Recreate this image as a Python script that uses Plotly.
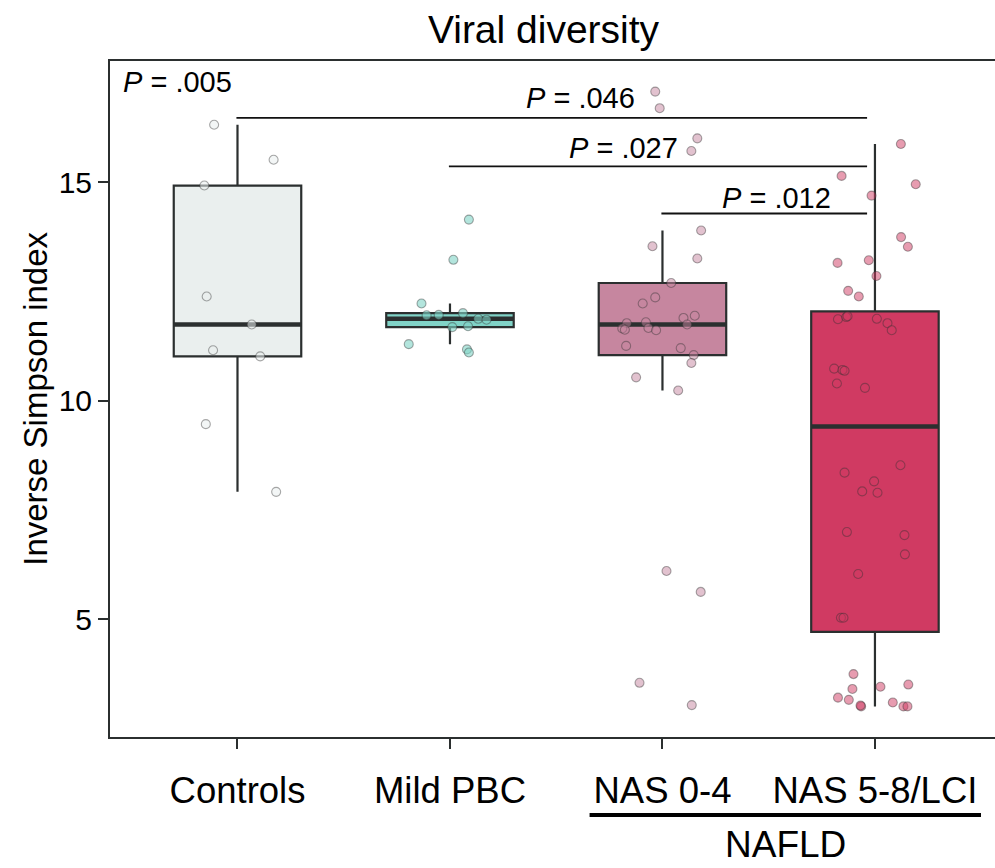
import numpy as np
import plotly.graph_objects as go

# ---- data -----------------------------------------------------------------
groups = ["Controls", "Mild PBC", "NAS 0-4", "NAS 5-8/LCI"]

controls = [16.32, 15.52, 14.93, 12.39, 11.75, 11.16, 11.02, 9.47, 7.92]
controls_jitter = [-0.110, 0.170, -0.156, -0.145, 0.067, -0.115, 0.107, -0.149, 0.182]

mild_pbc = [14.15, 13.23, 12.23, 11.96, 11.97, 12.01, 11.88, 11.86, 11.69, 11.71,
            11.30, 11.18, 11.11]
mild_pbc_jitter = [0.089, 0.016, -0.134, -0.110, -0.053, 0.061, 0.133, 0.172, 0.011,
                   0.085, -0.194, 0.080, 0.089]

nas_0_4 = [17.08, 16.70, 16.01, 15.72, 13.90, 13.54, 13.26, 12.70, 12.37, 12.23,
           11.95, 11.90, 11.78, 11.80, 11.75, 11.66, 11.63, 11.67, 11.62, 11.26,
           11.21, 11.05, 10.87, 10.54, 10.24, 6.11, 5.63, 3.55, 3.04]
nas_0_4_jitter = [-0.034, -0.013, 0.164, 0.136, 0.182, -0.047, 0.164, 0.041, -0.034,
                  -0.093, 0.152, 0.099, -0.168, -0.078, 0.116, -0.189, -0.177, -0.066,
                  -0.030, -0.171, 0.086, 0.147, 0.136, -0.124, 0.074, 0.019, 0.180,
                  -0.108, 0.138]

nas_5_8 = [15.88, 15.15, 14.96, 14.70, 13.75, 13.53, 13.16, 13.22, 12.86, 12.52,
           12.39, 11.87, 11.92, 11.94, 11.88, 11.78, 11.62, 10.74, 10.71, 10.69,
           10.40, 10.30, 8.53, 8.36, 8.16, 7.93, 7.90, 7.00, 6.93, 6.49,
           6.04, 5.04, 5.04, 3.75, 3.41, 3.46, 3.51, 3.21, 3.16, 3.01,
           3.03, 3.10, 3.01, 3.01]
nas_5_8_jitter = [0.122, -0.157, 0.192, -0.016, 0.123, 0.155, -0.176, -0.029, 0.007,
                  -0.126, -0.076, -0.174, -0.135, -0.129, 0.009, 0.059, 0.079, -0.192,
                  -0.153, -0.143, -0.179, -0.047, 0.120, -0.143, -0.004, -0.060, 0.012,
                  -0.132, 0.139, 0.141, -0.079, -0.160, -0.148, -0.101, -0.106, 0.026,
                  0.157, -0.174, -0.123, -0.065, -0.068, 0.084, 0.134, 0.153]

values = [controls, mild_pbc, nas_0_4, nas_5_8]
jitters = [controls_jitter, mild_pbc_jitter, nas_0_4_jitter, nas_5_8_jitter]

# pairwise comparisons: (group a, group b, label)
comparisons = [(0, 3, ".046"), (1, 3, ".027"), (2, 3, ".012")]
overall_p = ".005"

# ---- styling --------------------------------------------------------------
fills = ["#EAEFEE", "#80D3C7", "#C6869F", "#D03A62"]
point_fills = ["rgba(234,239,238,0.55)", "rgba(128,211,199,0.6)",
               "rgba(198,134,159,0.5)", "rgba(208,58,98,0.5)"]
dark = "#2B2F2F"
font = "Liberation Sans, Arial, Helvetica, sans-serif"
box_w = 0.6

fig = go.Figure()

# boxes (Tukey statistics computed from the data)
for i, vals in enumerate(values):
    v = np.asarray(vals)
    q1, med, q3 = np.percentile(v, [25, 50, 75])
    iqr = q3 - q1
    lo = v[v >= q1 - 1.5 * iqr].min()
    hi = v[v <= q3 + 1.5 * iqr].max()
    fig.add_trace(go.Box(
        x=[i], q1=[q1], median=[med], q3=[q3], lowerfence=[lo], upperfence=[hi],
        width=box_w, fillcolor=fills[i], line=dict(color=dark, width=2.2),
        whiskerwidth=0, boxpoints=False, hoverinfo="skip", showlegend=False,
    ))
    # heavier median bar
    fig.add_trace(go.Scatter(
        x=[i - box_w / 2, i + box_w / 2], y=[med, med], mode="lines",
        line=dict(color=dark, width=4.5), hoverinfo="skip", showlegend=False,
    ))

# jittered observations
for i, (vals, jit) in enumerate(zip(values, jitters)):
    fig.add_trace(go.Scatter(
        x=[i + j for j in jit], y=vals, mode="markers",
        marker=dict(size=9, color=point_fills[i],
                    line=dict(color="rgba(50,50,50,0.42)", width=1.1)),
        hoverinfo="y", showlegend=False,
    ))

# significance brackets
bracket_y = [16.48, 15.37, 14.29]
label_pos = [(1.615, 16.94), (1.817, 15.79), (2.536, 14.65)]
for (a, b, lab), yb, (tx, ty) in zip(comparisons, bracket_y, label_pos):
    fig.add_shape(type="line", xref="x", yref="y", x0=a - 0.005, x1=b - 0.037,
                  y0=yb, y1=yb, line=dict(color="#111111", width=1.8))
    fig.add_annotation(x=tx, y=ty, xref="x", yref="y", showarrow=False,
                       text=f"<i>P</i> = {lab}",
                       font=dict(family=font, size=29, color="black"))

fig.add_annotation(x=-0.548, y=17.31, xref="x", yref="y", xanchor="left",
                   showarrow=False, text=f"<i>P</i> = {overall_p}",
                   font=dict(family=font, size=29, color="black"))

# NAFLD grouping bar under the last two categories
fig.add_shape(type="line", xref="x", yref="paper", x0=1.657, x1=3.499,
              y0=-0.1154, y1=-0.1154, line=dict(color="black", width=4))
fig.add_annotation(x=2.580, y=-0.1918, xref="x", yref="paper", showarrow=False,
                   text="NAFLD", yanchor="bottom",
                   font=dict(family=font, size=37, color="black"))

# y-axis title
fig.add_annotation(x=-0.085, y=0.5, xref="paper", yref="paper", showarrow=False,
                   text="Inverse Simpson index", textangle=-90,
                   xanchor="center", yanchor="middle",
                   font=dict(family=font, size=33, color="black"))

fig.update_layout(
    width=995, height=868,
    margin=dict(l=110, r=0, t=61, b=131),
    paper_bgcolor="white", plot_bgcolor="white",
    title=dict(text="Viral diversity", xref="container", yref="container",
               x=543.5 / 995, y=1 - 29 / 868, xanchor="center", yanchor="middle",
               font=dict(family=font, size=39, color="black")),
    xaxis=dict(range=[-0.6, 3.565], tickmode="array", tickvals=[0, 1, 2, 3],
               ticktext=groups, showgrid=False, zeroline=False,
               showline=True, mirror=True, linecolor=dark, linewidth=2,
               ticks="outside", ticklen=10, tickwidth=2, tickcolor=dark,
               tickfont=dict(family=font, size=36.5, color="black"),
               ticklabelstandoff=10),
    yaxis=dict(range=[2.31, 17.78], tickvals=[5, 10, 15], showgrid=False,
               zeroline=False, showline=True, linecolor=dark, linewidth=2,
               ticks="outside", ticklen=10, tickwidth=2, tickcolor=dark,
               tickfont=dict(family=font, size=30, color="black")),
    showlegend=False,
)

fig.write_html("out.html")
